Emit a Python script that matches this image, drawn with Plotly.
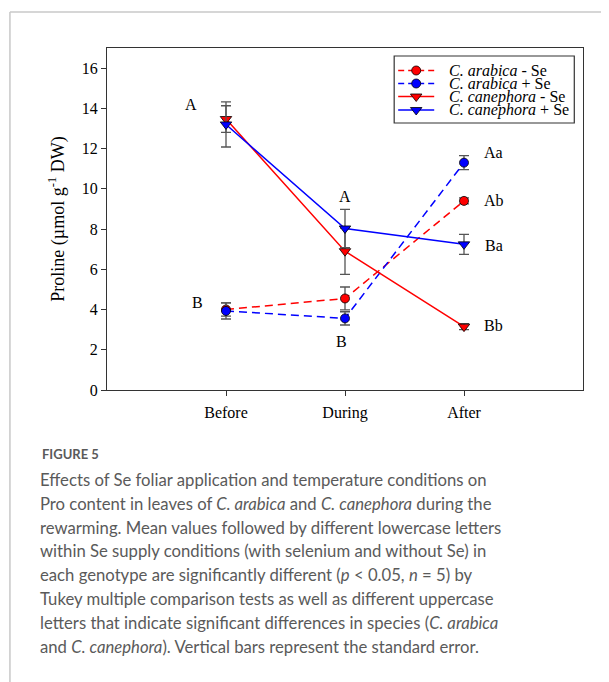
import plotly.graph_objects as go

periods = ["Before", "During", "After"]
x_pos = [1, 2, 3]

arabica_minus = [4.0, 4.55, 9.4]
arabica_minus_se = [0.33, 0.57, 0.15]
arabica_plus = [3.93, 3.56, 11.3]
arabica_plus_se = [0.40, 0.33, 0.35]
canephora_minus = [13.47, 6.9, 3.15]
canephora_minus_se = [0.66, 1.15, 0.15]
canephora_plus = [13.2, 8.03, 7.24]
canephora_plus_se = [1.12, 0.95, 0.5]

y_ticks = [0, 2, 4, 6, 8, 10, 12, 14, 16]

series_names = ["<i>C. arabica</i> - Se", "<i>C. arabica</i> + Se",
                "<i>C. canephora</i> - Se", "<i>C. canephora</i> + Se"]
series_values = [arabica_minus, arabica_plus, canephora_minus, canephora_plus]
series_errors = [arabica_minus_se, arabica_plus_se, canephora_minus_se, canephora_plus_se]
series_colors = ["red", "blue", "red", "blue"]
series_symbols = ["circle", "circle", "triangle-down", "triangle-down"]
series_dashes = ["8px,5px", "8px,5px", "solid", "solid"]

caption_title = "FIGURE 5"
caption_lines = [
    "Effects of Se foliar application and temperature conditions on",
    "Pro content in leaves of <i>C. arabica</i> and <i>C. canephora</i> during the",
    "rewarming. Mean values followed by different lowercase letters",
    "within Se supply conditions (with selenium and without Se) in",
    "each genotype are significantly different (<i>p</i> &lt; 0.05, <i>n</i> = 5) by",
    "Tukey multiple comparison tests as well as different uppercase",
    "letters that indicate significant differences in species (<i>C. arabica</i>",
    "and <i>C. canephora</i>). Vertical bars represent the standard error.",
]

# page is drawn with an 8px body margin; work in reference pixel coords
OFF = 8
W, H = 601, 674
PL, PR, PT, PB = 107, 582.7, 48, 390  # plot box in reference pixels
L, T = PL - OFF, PT - OFF
R = W - (PR - OFF)
B = H - (PB - OFF)
pw, ph = PR - PL, PB - PT


def px_x(px):
    return (px - PL) / pw


def px_y(py):
    return (PB - py) / ph


serif = "Liberation Serif, Times New Roman, serif"
sans = "Lato, Open Sans, sans-serif"

fig = go.Figure()
for name, vals, errs, color, symbol, dash in zip(series_names, series_values, series_errors,
                                                  series_colors, series_symbols, series_dashes):
    fig.add_trace(go.Scatter(
        x=x_pos, y=vals, name=name, mode="lines+markers", showlegend=False,
        line=dict(color=color, width=1.5, dash=dash),
        marker=dict(symbol=symbol, size=9 if symbol == "circle" else 10, color=color,
                    line=dict(color="black", width=0.8)),
        error_y=dict(type="data", array=errs, visible=True, color="#555555", thickness=1.3, width=5),
    ))

# manual compact legend (overlay axis in reference pixel units)
legend_rows = [70.5, 83.5, 96.5, 110.0]
annotations = []
for ry, name, color, symbol, dash in zip(legend_rows, series_names, series_colors,
                                         series_symbols, series_dashes):
    fig.add_trace(go.Scatter(
        x=[398, 416, 434], y=[ry, ry, ry], xaxis="x2", yaxis="y2", mode="lines",
        line=dict(color=color, width=1.5, dash="6px,4px" if dash != "solid" else "solid"),
        showlegend=False, hoverinfo="skip"))
    fig.add_trace(go.Scatter(
        x=[416], y=[ry], xaxis="x2", yaxis="y2", mode="markers",
        marker=dict(symbol=symbol, size=9 if symbol == "circle" else 10, color=color,
                    line=dict(color="black", width=0.8)),
        showlegend=False, hoverinfo="skip"))
    annotations.append(dict(x=447, y=ry, xref="x2", yref="y2", text=name, showarrow=False,
                            xanchor="left", yanchor="middle",
                            font=dict(family=serif, size=16, color="black")))

letters = [
    (0.71, 14.2, "A"), (0.76, 4.35, "B"),
    (2.0, 9.6, "A"), (1.97, 2.4, "B"),
    (3.25, 11.8, "Aa"), (3.25, 9.4, "Ab"), (3.25, 7.2, "Ba"), (3.25, 3.2, "Bb"),
]
for x, y, t in letters:
    annotations.append(dict(x=x, y=y, text=t, showarrow=False, xref="x", yref="y",
                            font=dict(family=serif, size=16, color="black")))

annotations.append(dict(x=px_x(40), y=px_y(454), xref="paper", yref="paper",
                        text="<b>" + caption_title + "</b>",
                        showarrow=False, xanchor="left", yanchor="middle",
                        font=dict(family=sans, size=13, color="#5a5a5a")))
for i, line in enumerate(caption_lines):
    annotations.append(dict(x=px_x(38), y=px_y(480 + i * 23.8), xref="paper", yref="paper",
                            text=line, showarrow=False, xanchor="left", yanchor="middle",
                            font=dict(family=sans, size=16.7, color="#5a5a5a")))

shapes = [
    dict(type="line", xref="paper", yref="paper", x0=px_x(10), x1=px_x(10), y0=px_y(12), y1=px_y(700),
         line=dict(color="#c8c8c8", width=1.5)),
    dict(type="line", xref="paper", yref="paper", x0=px_x(10), x1=px_x(620), y0=px_y(12), y1=px_y(12),
         line=dict(color="#c8c8c8", width=1.5)),
    dict(type="rect", xref="x2", yref="y2", x0=394, x1=574, y0=56, y1=123,
         line=dict(color="#333", width=1.2), fillcolor="rgba(0,0,0,0)", layer="below"),
]

fig.update_layout(
    width=W, height=H,
    margin=dict(l=L, r=R, t=T, b=B, pad=0),
    paper_bgcolor="white", plot_bgcolor="white",
    font=dict(family=serif, size=15, color="black"),
    xaxis=dict(range=[0, 4], tickvals=x_pos, ticktext=periods, ticks="outside", ticklen=5,
               tickcolor="#333", showline=True, linecolor="#333", linewidth=1.2, mirror=True,
               showgrid=False, zeroline=False, tickfont=dict(family=serif, size=16),
               ticklabelstandoff=3),
    yaxis=dict(range=[0, 17], tickvals=y_ticks, ticks="outside", ticklen=5,
               tickcolor="#333", showline=True, linecolor="#333", linewidth=1.2, mirror=True,
               showgrid=False, zeroline=False, tickfont=dict(family=serif, size=16),
               title=dict(text="Proline (µmol g<sup>-1</sup> DW)", font=dict(family=serif, size=18),
                          standoff=12)),
    xaxis2=dict(range=[PL, PR], overlaying="x", visible=False, fixedrange=True),
    yaxis2=dict(range=[PB, PT], overlaying="y", visible=False, fixedrange=True),
    annotations=annotations,
    shapes=shapes,
    showlegend=False,
)

fig.write_html("out.html")
